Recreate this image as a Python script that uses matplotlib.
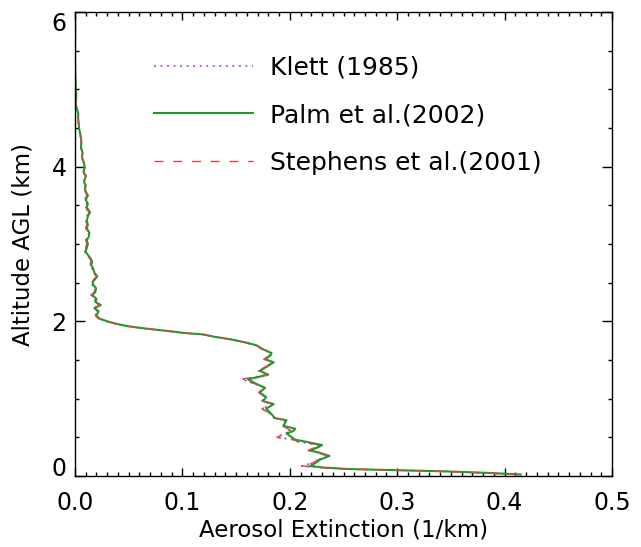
import numpy as np
import matplotlib
matplotlib.use('Agg')
import matplotlib.pyplot as plt
from matplotlib.ticker import MultipleLocator, FormatStrFormatter

plt.rcParams['font.family'] = ['DejaVu Sans']
plt.rcParams['lines.scale_dashes'] = False

# altitude (km) and extinction (1/km)
altitude = [0.02, 0.04, 0.06, 0.075, 0.09, 0.11, 0.13, 0.17, 0.21, 0.26,
            0.30, 0.33, 0.37, 0.40, 0.44, 0.47, 0.50, 0.55, 0.58, 0.61,
            0.65, 0.72, 0.75, 0.80, 0.87, 0.93, 0.97, 1.02, 1.08, 1.14,
            1.19, 1.25, 1.31, 1.36, 1.40, 1.47, 1.51, 1.56, 1.59, 1.64,
            1.69, 1.73, 1.77, 1.80, 1.83, 1.85, 1.87, 1.90, 1.92, 1.94,
            1.97, 2.00, 2.04, 2.08, 2.13, 2.17, 2.21, 2.25, 2.29, 2.34,
            2.38, 2.43, 2.47, 2.51, 2.55, 2.58, 2.63, 2.68, 2.73, 2.77,
            2.81, 2.86, 2.90, 2.95, 3.00, 3.05, 3.10, 3.15, 3.20, 3.25,
            3.30, 3.36, 3.41, 3.47, 3.52, 3.57, 3.63, 3.67, 3.71, 3.76,
            3.80, 3.88, 3.93, 3.99, 4.05, 4.12, 4.18, 4.25, 4.32, 4.40,
            4.48, 4.55, 4.62, 4.69, 4.76, 4.82, 4.90, 5.04, 5.20, 5.46,
            5.78, 6.00]

palm_ext = [0.415, 0.385, 0.345, 0.300, 0.255, 0.231, 0.219, 0.224, 0.228, 0.237,
            0.228, 0.219, 0.226, 0.230, 0.216, 0.205, 0.202, 0.197, 0.203, 0.205,
            0.194, 0.197, 0.186, 0.183, 0.178, 0.185, 0.175, 0.178, 0.172, 0.177,
            0.169, 0.161, 0.180, 0.172, 0.177, 0.185, 0.177, 0.182, 0.183, 0.175,
            0.169, 0.158, 0.144, 0.130, 0.120, 0.101, 0.090, 0.070, 0.058, 0.048,
            0.038, 0.030, 0.022, 0.020, 0.022, 0.018, 0.024, 0.019, 0.020, 0.016,
            0.019, 0.0196, 0.017, 0.0165, 0.019, 0.0208, 0.018, 0.017, 0.015, 0.016,
            0.0146, 0.012, 0.0096, 0.011, 0.012, 0.011, 0.013, 0.0133, 0.011, 0.012,
            0.011, 0.012, 0.014, 0.011, 0.012, 0.010, 0.012, 0.0102, 0.0093, 0.010,
            0.0084, 0.0102, 0.008, 0.009, 0.0084, 0.0065, 0.0071, 0.0055, 0.006, 0.0053,
            0.004, 0.0035, 0.003, 0.003, 0.0015, 0.0006, 0.0012, 0.0006, 0.0003, 0.0,
            0.0003, 0.0]

stephens_ext = [0.412, 0.380, 0.340, 0.298, 0.252, 0.228, 0.211, 0.222, 0.226, 0.235,
                0.226, 0.217, 0.224, 0.229, 0.208, 0.203, 0.188, 0.195, 0.201, 0.198,
                0.193, 0.196, 0.185, 0.182, 0.174, 0.184, 0.174, 0.177, 0.171, 0.176,
                0.168, 0.155, 0.179, 0.171, 0.176, 0.184, 0.176, 0.181, 0.182, 0.174,
                0.168, 0.157, 0.143, 0.129, 0.119, 0.100, 0.089, 0.069, 0.057, 0.047,
                0.037, 0.029, 0.021, 0.019, 0.021, 0.017, 0.023, 0.018, 0.019, 0.015,
                0.018, 0.0190, 0.016, 0.0160, 0.018, 0.0200, 0.017, 0.016, 0.014, 0.015,
                0.0140, 0.011, 0.0090, 0.010, 0.011, 0.010, 0.012, 0.0128, 0.010, 0.011,
                0.010, 0.011, 0.013, 0.010, 0.011, 0.009, 0.011, 0.0098, 0.0090, 0.0095,
                0.0080, 0.0098, 0.0077, 0.0086, 0.0080, 0.0062, 0.0068, 0.0052, 0.0057, 0.0050,
                0.0038, 0.0033, 0.0028, 0.0028, 0.0014, 0.0005, 0.0011, 0.0005, 0.0002, 0.0,
                0.0002, 0.0]

klett_ext = list(stephens_ext)

labels = ['Klett (1985)', 'Palm et al.(2002)', 'Stephens et al.(2001)']

fig = plt.figure(figsize=(6.41, 5.47), dpi=100)
ax = fig.add_axes([75/641, 1 - 476/547, (612-75)/641, (476-12)/547])

ax.plot(klett_ext, altitude, color='#9933ee', lw=1.1, dashes=(1.4, 3.3), label=labels[0])
ax.plot(palm_ext, altitude, color='#1f9a2a', lw=1.5, label=labels[1])
ax.plot(stephens_ext, altitude, color='#d84848', lw=1.0, dashes=(6.5, 7), label=labels[2])

ax.set_xlim(0, 0.5)
ax.set_ylim(0, 6)
ax.xaxis.set_major_locator(MultipleLocator(0.1))
ax.xaxis.set_minor_locator(MultipleLocator(0.01))
ax.yaxis.set_major_locator(MultipleLocator(2))
ax.yaxis.set_minor_locator(MultipleLocator(0.5))
ax.xaxis.set_major_formatter(FormatStrFormatter('%.1f'))
ax.yaxis.set_major_formatter(FormatStrFormatter('%d'))

ax.tick_params(which='both', direction='in', top=True, right=True, width=1.0, labelsize=17)
ax.tick_params(axis='x', which='major', length=6, pad=11)
ax.tick_params(axis='y', which='major', length=7.5, pad=6)
ax.tick_params(which='minor', length=3.2)
for s in ax.spines.values():
    s.set_linewidth(1.0)

# IDL keeps the end labels inside the axis range
fig.canvas.draw()
for t in ax.yaxis.get_major_ticks():
    if t.label1.get_text() == '0':
        t.label1.set_va('baseline')
    elif t.label1.get_text() == '6':
        t.label1.set_va('top')

ax.set_xlabel('Aerosol Extinction (1/km)', fontsize=16.5, labelpad=2)
ax.set_ylabel('Altitude AGL (km)', fontsize=16.5, labelpad=12)

ax.legend(loc='upper left', bbox_to_anchor=(0.147, 0.906), frameon=False, fontsize=18,
          handlelength=3.96, handletextpad=0.68, labelspacing=0.94,
          borderpad=0, borderaxespad=0)

fig.savefig('out.png', dpi=100)
